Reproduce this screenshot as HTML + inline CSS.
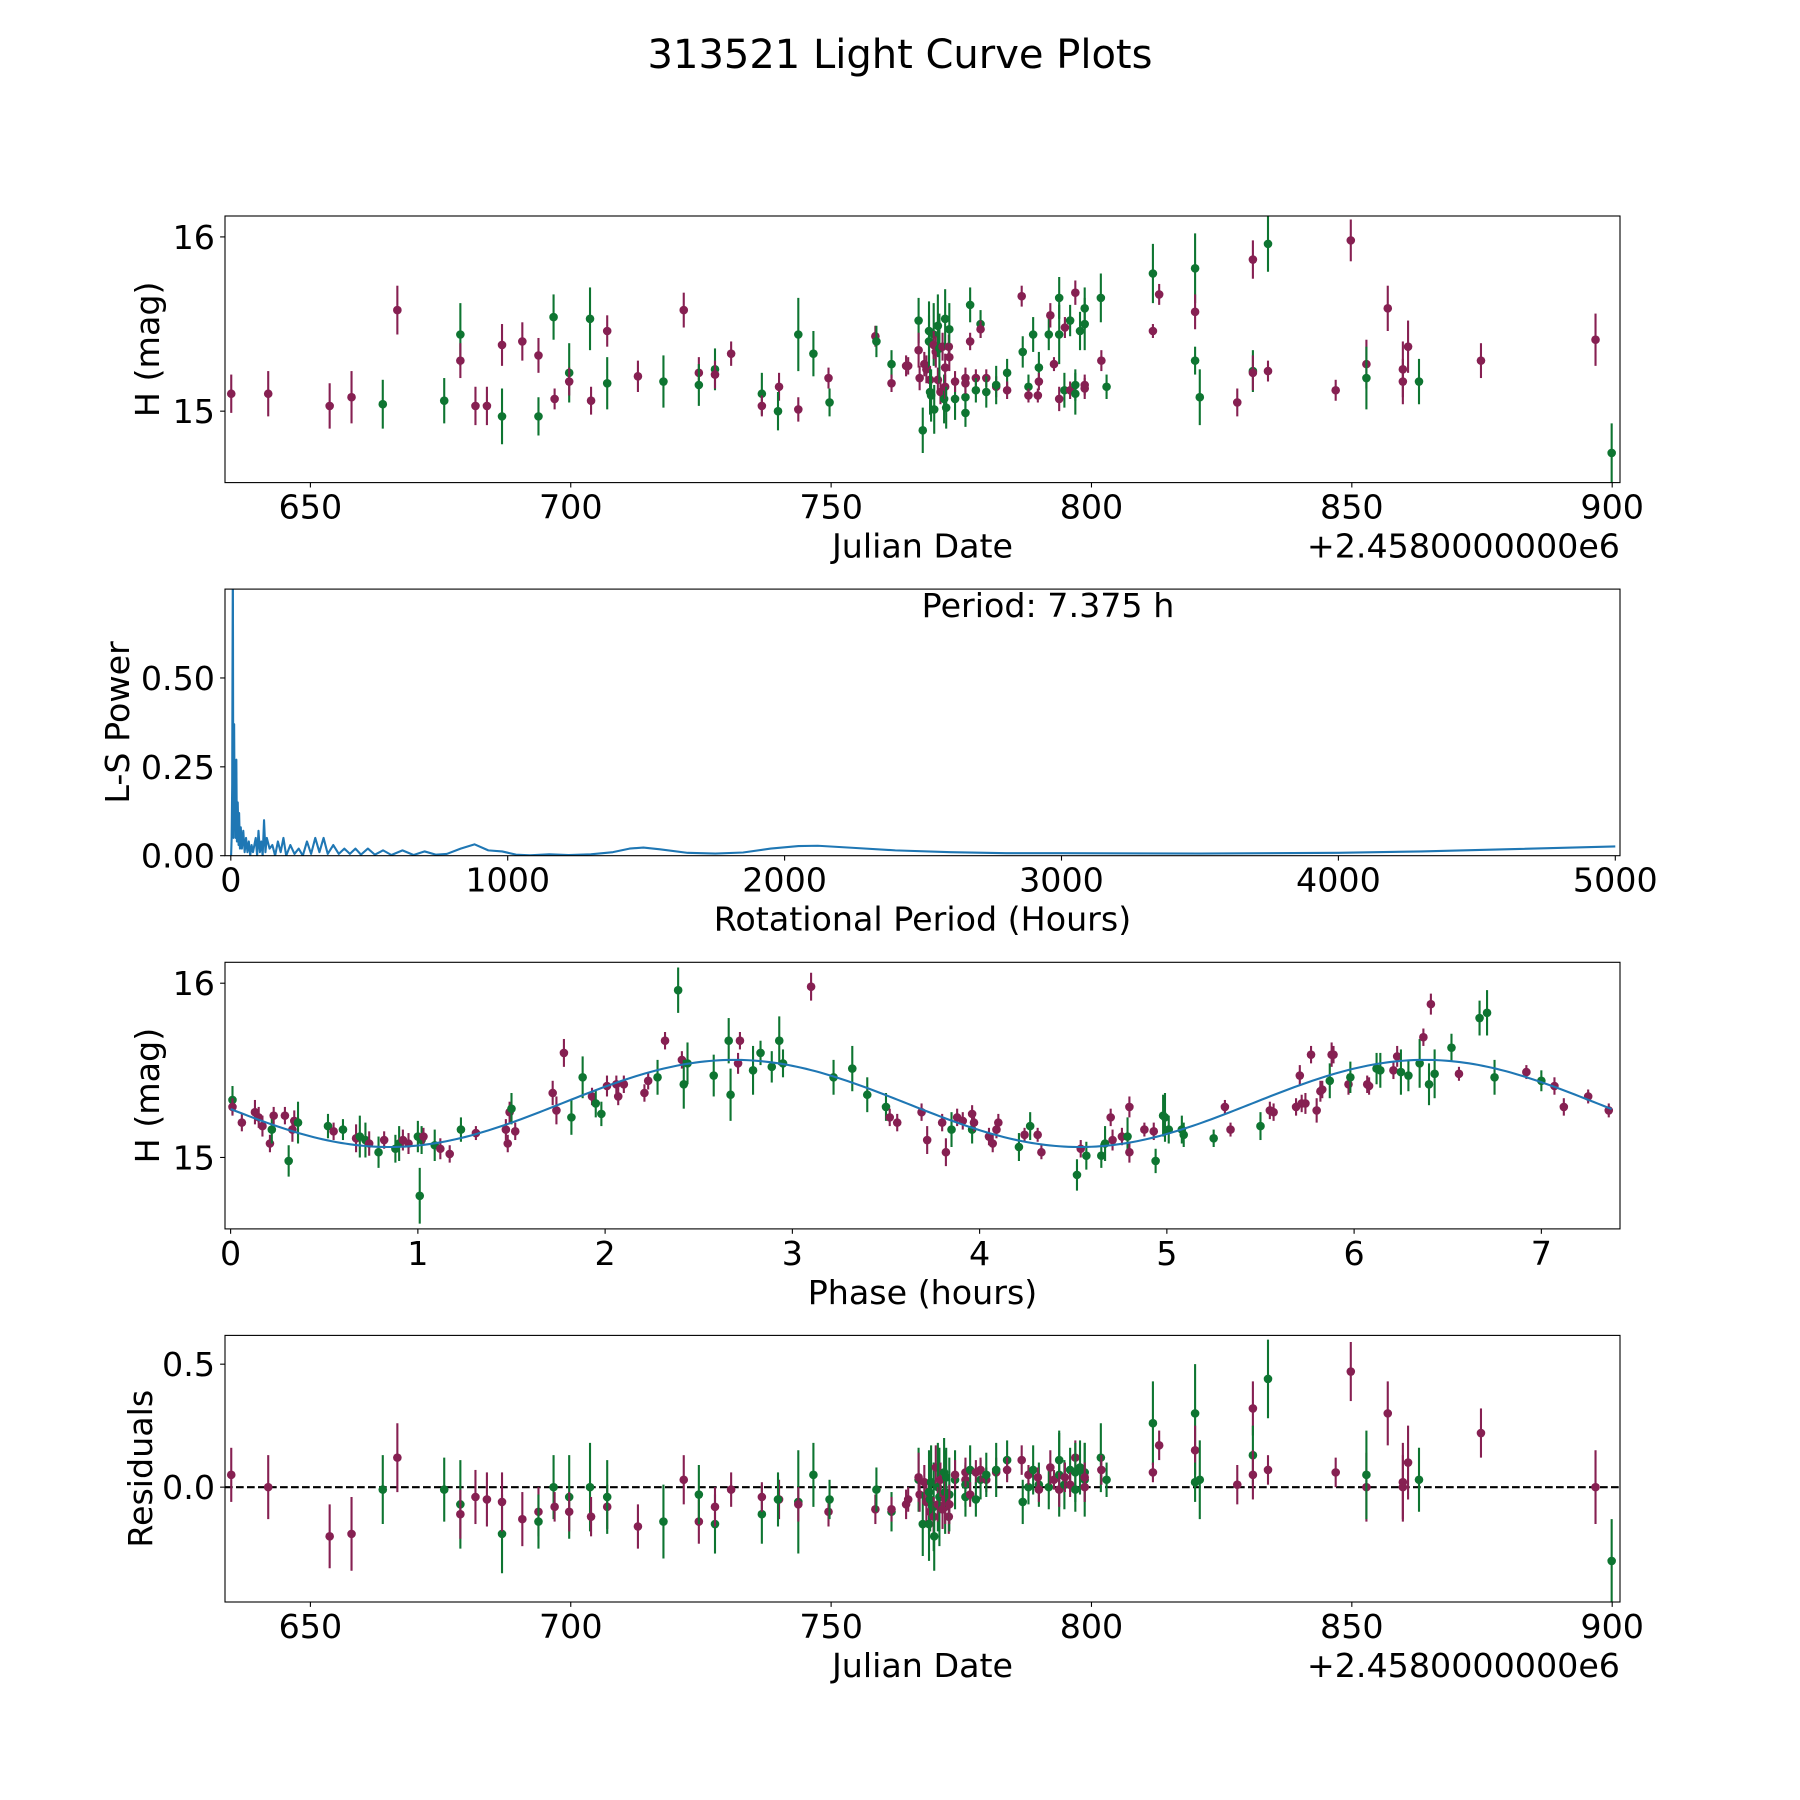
<!DOCTYPE html>
<html><head><meta charset="utf-8"><title>313521 Light Curve Plots</title>
<style>
html,body{margin:0;padding:0;background:#fff;}
svg{display:block;font-family:"DejaVu Sans","Liberation Sans",sans-serif;}
</style></head>
<body>
<svg id="fig" xmlns="http://www.w3.org/2000/svg" width="1800" height="1800" viewBox="0 0 1800 1800">
<rect x="0" y="0" width="1800" height="1800" fill="#fff"/>
<text x="900" y="68" font-size="40" text-anchor="middle" fill="#000">313521 Light Curve Plots</text>
</svg>
<script>
// ---------- data ----------
// light curve: [julian date offset, H mag, error, filter, residual]
const lightCurve = [
[634.8,15.10,0.11,'m',0.05],[641.9,15.10,0.13,'m',0.00],[653.7,15.03,0.13,'m',-0.20],[657.9,15.08,0.15,'m',-0.19],
[663.9,15.04,0.14,'g',-0.01],[666.7,15.58,0.14,'m',0.12],[675.7,15.06,0.13,'g',-0.01],[678.8,15.44,0.18,'g',-0.07],
[678.8,15.29,0.10,'m',-0.11],[681.7,15.03,0.11,'m',-0.04],[683.9,15.03,0.11,'m',-0.05],[686.8,14.97,0.16,'g',-0.19],
[686.8,15.38,0.12,'m',-0.06],[690.7,15.40,0.11,'m',-0.13],[693.8,15.32,0.10,'m',-0.10],[693.8,14.97,0.11,'g',-0.14],
[696.7,15.54,0.13,'g',0.00],[696.9,15.07,0.06,'m',-0.08],[699.7,15.22,0.17,'g',-0.04],[699.7,15.17,0.08,'m',-0.10],
[703.7,15.53,0.18,'g',0.00],[703.9,15.06,0.08,'m',-0.12],[707.0,15.46,0.09,'m',-0.08],[707.0,15.16,0.15,'g',-0.04],
[712.9,15.20,0.09,'m',-0.16],[717.8,15.17,0.15,'g',-0.14],[721.7,15.58,0.10,'m',0.03],[724.6,15.22,0.09,'m',-0.14],
[724.6,15.15,0.12,'g',-0.03],[727.7,15.24,0.12,'g',-0.15],[727.7,15.21,0.08,'m',-0.08],[730.8,15.33,0.07,'m',-0.01],
[736.7,15.10,0.12,'g',-0.11],[736.7,15.03,0.06,'m',-0.04],[740.0,15.14,0.08,'m',-0.05],[739.8,15.00,0.11,'g',-0.05],
[743.7,15.44,0.21,'g',-0.06],[743.7,15.01,0.07,'m',-0.07],[746.6,15.33,0.13,'g',0.05],[749.5,15.19,0.06,'m',-0.10],
[749.7,15.05,0.08,'g',-0.05],[758.5,15.43,0.06,'m',-0.09],[758.7,15.40,0.09,'g',-0.01],[761.6,15.27,0.08,'g',-0.10],
[761.6,15.16,0.05,'m',-0.09],[764.4,15.26,0.06,'m',-0.07],
[764.8,15.26,0.05,'m',-0.05],[766.8,15.52,0.13,'g',0.03],[766.8,15.35,0.10,'m',0.04],[767.0,15.19,0.07,'m',-0.03],
[767.6,14.89,0.13,'g',-0.15],[767.9,15.27,0.07,'m',0.02],[768.3,15.24,0.08,'m',-0.06],[768.8,15.46,0.17,'g',-0.02],
[768.8,15.40,0.15,'g',-0.15],[769.0,15.18,0.08,'m',-0.10],[769.0,15.11,0.13,'g',-0.05],[769.2,15.09,0.15,'g',0.02],
[769.7,15.44,0.18,'g',-0.08],[769.7,15.38,0.08,'m',-0.12],[769.8,15.01,0.14,'g',-0.20],[770.1,15.34,0.09,'m',0.08],
[770.5,15.49,0.18,'g',0.00],[770.5,15.18,0.07,'m',-0.07],[770.8,15.36,0.20,'g',-0.04],[771.0,15.11,0.07,'m',0.03],
[771.4,15.37,0.08,'m',-0.09],[771.7,15.07,0.14,'g',0.06],[771.9,15.53,0.17,'g',-0.02],[771.9,15.25,0.08,'m',-0.05],
[771.9,15.14,0.07,'m',-0.08],[772.1,15.02,0.12,'g',0.04],[772.6,15.37,0.07,'m',-0.12],[772.7,15.47,0.15,'g',-0.03],
[772.7,15.31,0.08,'m',-0.07],[773.8,15.07,0.12,'g',0.03],[773.8,15.17,0.06,'m',0.05],[775.8,15.19,0.06,'m',0.03],
[775.8,15.08,0.09,'g',0.01],[775.8,14.99,0.08,'g',-0.04],[775.8,15.16,0.06,'m',0.06],[776.7,15.61,0.10,'g',0.07],
[776.7,15.40,0.05,'m',-0.03],[777.8,15.19,0.05,'m',0.06],[777.8,15.12,0.07,'g',-0.05],[778.7,15.50,0.08,'g',0.03],
[778.7,15.47,0.05,'m',0.07],[779.8,15.19,0.05,'m',0.03],[779.8,15.11,0.09,'g',0.05],[781.7,15.14,0.06,'m',0.06],
[781.7,15.15,0.11,'g',0.07],[783.8,15.22,0.08,'g',0.11],[783.8,15.12,0.05,'m',0.07],[786.6,15.66,0.06,'m',0.11],
[786.8,15.34,0.09,'g',-0.06],[787.9,15.14,0.07,'g',0.00],[787.9,15.09,0.04,'m',0.05],[788.8,15.44,0.10,'g',0.07],
[789.9,15.25,0.09,'g',0.01],[789.9,15.17,0.05,'m',-0.01],[789.7,15.09,0.04,'m',0.04],[791.8,15.44,0.09,'g',0.00],
[792.1,15.55,0.07,'m',0.08],[792.8,15.27,0.04,'m',0.03],[793.8,15.65,0.12,'g',0.11],[793.8,15.44,0.17,'g',0.05],
[793.8,15.07,0.07,'m',-0.01],[794.8,15.12,0.10,'g',0.01],[794.9,15.48,0.06,'m',0.04],[795.9,15.52,0.09,'g',0.07],
[795.9,15.12,0.05,'m',0.01],[796.9,15.68,0.07,'m',0.12],[796.9,15.15,0.09,'g',-0.01],[796.9,15.10,0.12,'g',0.06],
[797.8,15.46,0.11,'g',0.08],[798.7,15.59,0.12,'g',0.06],[798.7,15.50,0.15,'g',0.03],[798.7,15.15,0.06,'m',0.00],
[798.7,15.13,0.06,'m',0.04],[801.8,15.65,0.14,'g',0.12],[801.9,15.29,0.06,'m',0.07],[802.9,15.14,0.07,'g',0.03],
[811.8,15.79,0.17,'g',0.26],[811.8,15.46,0.04,'m',0.06],[813.0,15.67,0.06,'m',0.17],[819.9,15.82,0.20,'g',0.30],
[819.9,15.57,0.10,'m',0.15],[819.9,15.29,0.08,'g',0.02],[820.8,15.08,0.16,'g',0.03],[828.0,15.05,0.08,'m',0.01],
[831.0,15.87,0.11,'m',0.32],[831.0,15.23,0.12,'g',0.13],[831.0,15.22,0.10,'m',0.05],[833.9,15.96,0.16,'g',0.44],
[833.9,15.23,0.06,'m',0.07],[846.9,15.12,0.06,'m',0.06],[849.8,15.98,0.12,'m',0.47],[852.8,15.27,0.14,'m',0.00],
[852.8,15.19,0.18,'g',0.05],[856.9,15.59,0.13,'m',0.30],[859.8,15.24,0.16,'m',0.02],[859.8,15.17,0.13,'m',0.00],
[860.8,15.37,0.15,'m',0.10],[862.9,15.17,0.13,'g',0.03],[874.8,15.29,0.10,'m',0.22],[896.8,15.41,0.15,'m',0.00],
[899.9,14.76,0.17,'g',-0.30]
];
// phase-folded: [phase hours, H mag, error, filter]
const phased = [
[0.01,15.33,0.08,'g'],[0.01,15.29,0.05,'m'],[0.06,15.20,0.05,'m'],[0.13,15.26,0.07,'m'],[0.15,15.23,0.06,'m'],[0.17,15.18,0.06,'m'],
[0.21,15.08,0.05,'m'],[0.22,15.16,0.08,'g'],[0.23,15.24,0.05,'m'],[0.29,15.24,0.05,'m'],[0.31,14.98,0.09,'g'],[0.33,15.16,0.07,'m'],
[0.34,15.21,0.06,'m'],[0.36,15.20,0.12,'g'],[0.52,15.18,0.07,'g'],[0.55,15.15,0.05,'m'],[0.60,15.16,0.06,'g'],[0.67,15.11,0.08,'m'],
[0.69,15.12,0.12,'g'],[0.72,15.10,0.10,'g'],[0.74,15.08,0.07,'m'],[0.79,15.03,0.09,'g'],[0.82,15.10,0.05,'m'],[0.88,15.05,0.08,'g'],
[0.90,15.08,0.10,'g'],[0.92,15.10,0.06,'m'],[0.95,15.08,0.06,'m'],[1.00,15.12,0.09,'g'],[1.01,14.78,0.16,'g'],[1.02,15.10,0.08,'g'],
[1.03,15.12,0.05,'m'],[1.09,15.07,0.09,'g'],[1.12,15.05,0.06,'m'],[1.17,15.02,0.05,'m'],[1.23,15.16,0.07,'g'],[1.31,15.14,0.04,'m'],
[1.47,15.16,0.06,'m'],[1.48,15.08,0.05,'m'],[1.49,15.26,0.06,'m'],[1.50,15.28,0.09,'g'],[1.52,15.15,0.05,'m'],[1.72,15.37,0.07,'m'],
[1.74,15.27,0.08,'m'],[1.78,15.60,0.08,'m'],[1.82,15.23,0.10,'g'],[1.88,15.46,0.12,'g'],[1.93,15.35,0.05,'m'],[1.95,15.31,0.08,'g'],
[1.98,15.25,0.07,'g'],[2.01,15.41,0.06,'m'],[2.06,15.42,0.05,'m'],[2.07,15.35,0.05,'m'],[2.10,15.42,0.05,'m'],[2.21,15.37,0.05,'m'],
[2.23,15.44,0.05,'m'],[2.28,15.46,0.10,'g'],[2.32,15.67,0.05,'m'],[2.39,15.96,0.13,'g'],[2.41,15.56,0.05,'m'],[2.42,15.42,0.14,'g'],
[2.44,15.54,0.12,'g'],[2.58,15.47,0.12,'g'],[2.66,15.67,0.13,'g'],[2.67,15.36,0.15,'g'],[2.71,15.54,0.06,'m'],[2.72,15.67,0.05,'m'],
[2.79,15.50,0.14,'g'],[2.83,15.60,0.07,'g'],[2.89,15.52,0.09,'g'],[2.93,15.67,0.14,'g'],[2.95,15.54,0.08,'g'],[3.10,15.98,0.08,'m'],
[3.22,15.46,0.10,'g'],[3.32,15.51,0.13,'g'],[3.40,15.36,0.10,'g'],[3.50,15.29,0.08,'g'],[3.52,15.23,0.05,'m'],[3.56,15.20,0.05,'m'],
[3.69,15.26,0.05,'m'],[3.72,15.10,0.08,'m'],[3.80,15.20,0.05,'m'],[3.82,15.03,0.08,'m'],[3.85,15.16,0.10,'g'],[3.88,15.23,0.05,'m'],
[3.91,15.21,0.05,'m'],[3.96,15.16,0.08,'g'],[3.96,15.25,0.05,'m'],[3.97,15.20,0.05,'m'],[4.05,15.12,0.05,'m'],[4.07,15.08,0.05,'m'],
[4.09,15.16,0.05,'m'],[4.10,15.20,0.05,'m'],[4.21,15.06,0.08,'g'],[4.24,15.13,0.04,'m'],[4.27,15.18,0.08,'g'],[4.31,15.13,0.04,'m'],
[4.33,15.03,0.04,'m'],[4.52,14.90,0.09,'g'],[4.54,15.05,0.05,'m'],[4.57,15.01,0.08,'g'],[4.65,15.01,0.07,'g'],[4.67,15.08,0.10,'g'],
[4.70,15.23,0.05,'m'],[4.71,15.10,0.06,'m'],[4.76,15.12,0.05,'m'],[4.79,15.12,0.11,'g'],[4.80,15.29,0.06,'m'],[4.80,15.03,0.06,'m'],
[4.88,15.16,0.04,'m'],[4.93,15.15,0.05,'m'],[4.94,14.98,0.07,'g'],[4.98,15.24,0.12,'g'],[4.99,15.23,0.14,'g'],[5.01,15.16,0.08,'g'],
[5.08,15.16,0.08,'g'],[5.09,15.13,0.07,'g'],[5.25,15.11,0.05,'g'],[5.31,15.29,0.04,'m'],[5.34,15.16,0.04,'m'],[5.50,15.18,0.08,'g'],
[5.55,15.27,0.05,'m'],[5.57,15.26,0.05,'m'],[5.69,15.29,0.05,'m'],[5.71,15.47,0.06,'m'],[5.72,15.31,0.05,'m'],[5.74,15.31,0.06,'m'],
[5.77,15.59,0.05,'m'],[5.80,15.27,0.07,'m'],[5.82,15.38,0.06,'m'],[5.83,15.39,0.05,'m'],[5.87,15.44,0.10,'g'],[5.88,15.59,0.07,'m'],
[5.89,15.59,0.05,'m'],[5.97,15.42,0.06,'m'],[5.98,15.46,0.09,'g'],[6.07,15.42,0.05,'m'],[6.08,15.41,0.05,'m'],[6.12,15.51,0.09,'g'],
[6.14,15.50,0.10,'g'],[6.21,15.50,0.05,'m'],[6.23,15.58,0.06,'m'],[6.25,15.49,0.13,'g'],[6.29,15.47,0.09,'g'],[6.35,15.54,0.14,'g'],
[6.37,15.69,0.05,'m'],[6.40,15.42,0.12,'g'],[6.41,15.88,0.06,'m'],[6.43,15.48,0.14,'g'],[6.52,15.63,0.08,'g'],[6.56,15.48,0.04,'m'],
[6.67,15.80,0.10,'g'],[6.71,15.83,0.13,'g'],[6.75,15.46,0.10,'g'],[6.92,15.49,0.04,'m'],[7.00,15.44,0.06,'g'],[7.07,15.41,0.05,'m'],
[7.12,15.29,0.05,'m'],[7.25,15.35,0.04,'m'],[7.36,15.27,0.04,'m']
];
// Lomb-Scargle periodogram
const lsPeriod = [1,3,5,6,7.375,8.5,10,12,14,16,18,20,22,25,28,30,33,36,40,45,50,55,60,65,70,75,80,90,95,100,105,110,115,120,125,130,140,150,160,170,180,190,200,215,230,245,260,275,290,305,320,335,350,370,390,410,430,450,470,495,520,550,580,620,660,700,740,780,830,880,930,980,1030,1080,1150,1220,1300,1380,1440,1490,1550,1650,1750,1850,1950,2050,2120,2250,2400,2600,2800,3000,3500,4000,4300,4600,5000];
const lsPower = [0,0.05,0.2,0.5,0.85,0.3,0.05,0.37,0.08,0.2,0.05,0.27,0.04,0.15,0.03,0.12,0.02,0.08,0.02,0.07,0.01,0.05,0.01,0.04,0.0,0.03,0.01,0.05,0.0,0.07,0.01,0.04,0.0,0.1,0.01,0.05,0.02,0.03,0.0,0.04,0.01,0.05,0.0,0.03,0.005,0.02,0.0,0.04,0.005,0.05,0.01,0.05,0.005,0.03,0.005,0.02,0.005,0.02,0.003,0.02,0.003,0.015,0.002,0.015,0.002,0.012,0.003,0.005,0.02,0.032,0.015,0.012,0.003,0.001,0.004,0.002,0.004,0.01,0.02,0.023,0.018,0.008,0.006,0.009,0.02,0.027,0.028,0.022,0.015,0.01,0.007,0.007,0.006,0.008,0.012,0.018,0.026];
// model fit parameters
const bestPeriod = 7.375;
const modelMean = 15.31;
const modelAmp = 0.25;
const modelPeakPhase = 2.69;
// ticks
const jdTicks = [650,700,750,800,850,900];
const magTicks = [15,16];
const lsXTicks = [0,1000,2000,3000,4000,5000];
const lsYTicks = [0,0.25,0.5];
const lsYTickLabels = ['0.00','0.25','0.50'];
const phaseTicks = [0,1,2,3,4,5,6,7];
const residTicks = [0,0.5];
const residTickLabels = ['0.0','0.5'];

// ---------- drawing ----------
const NS = 'http://www.w3.org/2000/svg';
const svg = document.getElementById('fig');
const COL = {m:'#862052', g:'#0e7531'};
const FS = 33.3;
function mk(tag, attrs, parent){
  const e = document.createElementNS(NS, tag);
  for (const k in attrs) e.setAttribute(k, attrs[k]);
  (parent||svg).appendChild(e);
  return e;
}
function makeAxes(id, top, xlim, ylim){
  const ax = {id, left:225, right:1620, top, bottom:top+266.6, xlim, ylim};
  ax.sx = v => ax.left + (v-xlim[0])/(xlim[1]-xlim[0])*(ax.right-ax.left);
  ax.sy = v => ax.bottom - (v-ylim[0])/(ylim[1]-ylim[0])*(ax.bottom-ax.top);
  const defs = mk('defs',{});
  const cp = mk('clipPath',{id:'clip-'+id}, defs);
  mk('rect',{x:ax.left,y:ax.top,width:ax.right-ax.left,height:ax.bottom-ax.top}, cp);
  const g = mk('g',{'clip-path':'url(#clip-'+id+')'});
  
  
  ax.g = g;
  return ax;
}
function frame(ax){
  const r = mk('rect',{x:ax.left,y:ax.top,width:ax.right-ax.left,height:ax.bottom-ax.top,fill:'none',stroke:'#000','stroke-width':1.1});
  
  
}
function xTicks(ax, ticks, labels){
  ticks.forEach((t,i)=>{
    const x = ax.sx(t);
    const l = mk('line',{x1:x,x2:x,y1:ax.bottom,y2:ax.bottom+4.9,stroke:'#000','stroke-width':1.1});
    
    
    const tx = mk('text',{x:x,y:ax.bottom+36,'font-size':FS,'text-anchor':'middle'});
    tx.textContent = labels ? labels[i] : String(t);
    
    
  });
}
function yTicks(ax, ticks, labels){
  ticks.forEach((t,i)=>{
    const y = ax.sy(t);
    const l = mk('line',{x1:ax.left-4.9,x2:ax.left,y1:y,y2:y,stroke:'#000','stroke-width':1.1});
    
    
    const tx = mk('text',{x:ax.left-10,y:y+12,'font-size':FS,'text-anchor':'end'});
    tx.textContent = labels ? labels[i] : String(t);
    
    
  });
}
function xLabel(ax, txt, name){
  const t = mk('text',{x:(ax.left+ax.right)/2,y:ax.bottom+75,'font-size':FS,'text-anchor':'middle'});
  t.textContent = txt;
  
  
}
function yLabel(ax, txt, bx, name){
  const cy = (ax.top+ax.bottom)/2;
  const t = mk('text',{x:bx,y:cy,'font-size':FS,'text-anchor':'middle',transform:'rotate(-90 '+bx+' '+cy+')'});
  t.textContent = txt;
  
  
}
function offsetText(ax){
  const t = mk('text',{x:ax.right,y:ax.bottom+75,'font-size':FS,'text-anchor':'end'});
  t.textContent = '+2.4580000000e6';
  
  
}
function errPoint(ax, x, y, e, c, name){
  const px = ax.sx(x);
  const l = mk('line',{x1:px,x2:px,y1:ax.sy(y-e),y2:ax.sy(y+e),stroke:COL[c],'stroke-width':2.1}, ax.g);
  
  
  const d = mk('circle',{cx:px,cy:ax.sy(y),r:4.3,fill:COL[c]}, ax.g);
  
  
}

// Panel 1: light curve
const ax1 = makeAxes('lightcurve', 216, [633.6,901.5], [14.59,16.12]);
lightCurve.forEach(p => errPoint(ax1, p[0], p[1], p[2], p[3], 'lightcurve'));
frame(ax1); xTicks(ax1, jdTicks); yTicks(ax1, magTicks);
xLabel(ax1, 'Julian Date', 'lightcurve-x-axis-title'); offsetText(ax1);
yLabel(ax1, 'H (mag)', 159, 'lightcurve-y-axis-title');

// Panel 2: periodogram
const ax2 = makeAxes('periodogram', 589.1, [-21,5017], [0,0.75]);
let dPath = '';
lsPeriod.forEach((p,i)=>{ dPath += (i?'L':'M') + ax2.sx(p).toFixed(2) + ' ' + ax2.sy(lsPower[i]).toFixed(2); });
const ln = mk('path',{d:dPath,fill:'none',stroke:'#1f77b4','stroke-width':2.1,'stroke-linejoin':'round'}, ax2.g);


frame(ax2); xTicks(ax2, lsXTicks); yTicks(ax2, lsYTicks, lsYTickLabels);
xLabel(ax2, 'Rotational Period (Hours)', 'periodogram-x-axis-title');
yLabel(ax2, 'L-S Power', 129, 'periodogram-y-axis-title');
const pt = mk('text',{x:1048,y:617,'font-size':FS,'text-anchor':'middle'});
pt.textContent = 'Period: ' + bestPeriod + ' h';



// Panel 3: phased
const ax3 = makeAxes('phased', 962.3, [-0.03,7.42], [14.59,16.12]);
phased.forEach(p => errPoint(ax3, p[0], p[1], p[2], p[3], 'phased'));
let mPath = '';
for (let i=0;i<=300;i++){
  const ph = bestPeriod*i/300;
  const m = modelMean + modelAmp*Math.cos(4*Math.PI*(ph-modelPeakPhase)/bestPeriod);
  mPath += (i?'L':'M') + ax3.sx(ph).toFixed(2) + ' ' + ax3.sy(m).toFixed(2);
}
const ml = mk('path',{d:mPath,fill:'none',stroke:'#1f77b4','stroke-width':2.1}, ax3.g);


frame(ax3); xTicks(ax3, phaseTicks); yTicks(ax3, magTicks);
xLabel(ax3, 'Phase (hours)', 'phased-x-axis-title');
yLabel(ax3, 'H (mag)', 159, 'phased-y-axis-title');

// Panel 4: residuals
const ax4 = makeAxes('residuals', 1335.4, [633.6,901.5], [-0.467,0.617]);
const zl = mk('line',{x1:ax4.left,x2:ax4.right,y1:ax4.sy(0),y2:ax4.sy(0),stroke:'#000','stroke-width':2.1,'stroke-dasharray':'7.7 3.3'}, ax4.g);


lightCurve.forEach(p => errPoint(ax4, p[0], p[4], p[2], p[3], 'residual'));
frame(ax4); xTicks(ax4, jdTicks); yTicks(ax4, residTicks, residTickLabels);
xLabel(ax4, 'Julian Date', 'residuals-x-axis-title'); offsetText(ax4);
yLabel(ax4, 'Residuals', 152, 'residuals-y-axis-title');
</script>
</body></html>
